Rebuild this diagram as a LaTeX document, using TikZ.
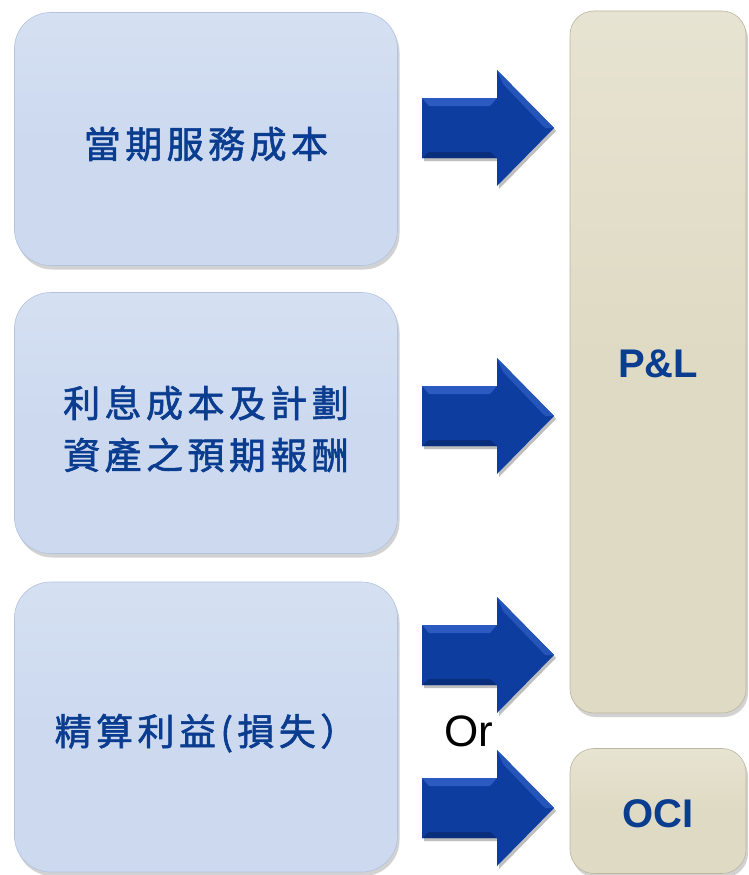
\documentclass[tikz,border=0pt]{standalone}
\usepackage{fontspec}
\setmainfont{Liberation Sans}
\newfontfamily\cjk[LetterSpace=12,FakeBold=1.6]{Noto Sans CJK TC}
\usetikzlibrary{shadows}
\definecolor{boxblue}{HTML}{CCD9EF}
\definecolor{boxblueedge}{HTML}{B3C3DF}
\definecolor{boxbeige}{HTML}{DFDAC3}
\definecolor{boxbeigeedge}{HTML}{BDB69E}
\definecolor{txtblue}{HTML}{0A3C90}
\definecolor{arrblue}{HTML}{0C3D9F}
\definecolor{arrlight}{HTML}{2B5BC0}
\definecolor{arrdark}{HTML}{082E7C}
\tikzset{
  srcbox/.style={draw=boxblueedge, line width=0.6pt, rounded corners=36pt,
    top color=boxblue!82!white, bottom color=boxblue, middle color=boxblue,
    drop shadow={opacity=0.35, shadow xshift=2pt, shadow yshift=-4pt},
    minimum width=383pt, inner sep=0pt, text=txtblue,
    font=\cjk\fontsize{37}{52}\selectfont, align=center},
  dstbox/.style={draw=boxbeigeedge, line width=0.6pt, rounded corners=24pt,
    top color=boxbeige!75!white, bottom color=boxbeige, middle color=boxbeige,
    drop shadow={opacity=0.35, shadow xshift=2pt, shadow yshift=-4pt},
    minimum width=176pt, inner sep=0pt, text=txtblue,
    font=\bfseries\fontsize{40}{44}\selectfont},
  ortext/.style={font=\fontsize{44}{48}\selectfont, text=black, inner sep=0pt}
}
\newcommand{\lowered}[2]{\raisebox{-#1}[\height][\depth]{#2}}
\newcommand{\blockarrow}[1]{%
  \fill[black, opacity=0.25] (424,#1-27) -- (499,#1-27) -- (499,#1-55) -- (556,#1+3) -- (499,#1+61) -- (499,#1+33) -- (424,#1+33) -- cycle;
  \fill[arrblue] (422,#1-30) -- (497,#1-30) -- (497,#1-58) -- (554,#1) -- (497,#1+58) -- (497,#1+30) -- (422,#1+30) -- cycle;
  \fill[arrlight] (422,#1-30) -- (497,#1-30) -- (490,#1-22) -- (429,#1-22) -- cycle;
  \fill[arrdark] (422,#1+30) -- (497,#1+30) -- (490,#1+24) -- (429,#1+24) -- cycle;
  \fill[arrlight!80!arrblue] (497,#1-58) -- (554,#1) -- (545,#1) -- (503,#1-44) -- cycle;
}
\begin{document}
\begin{tikzpicture}[x=1pt,y=-1pt]
\useasboundingbox[fill=white] (0,0) rectangle (749,875);
% source boxes
\node[srcbox, minimum height=253pt] (b1) at (206,139) {\lowered{5pt}{當期服務成本}};
\node[srcbox, minimum height=261pt] (b2) at (206,423) {\lowered{6pt}{利息成本及計劃}\\\lowered{6pt}{資產之預期報酬}};
\node[srcbox, minimum height=290pt] (b3) at (206,727) {\lowered{6pt}{精算利益(損失）}};
% destination boxes
\node[dstbox, minimum height=702pt] (pl) at (658,362) {\lowered{2pt}{P\&L}};
\node[dstbox, minimum height=125pt] (oci) at (658,811) {\lowered{3pt}{OCI}};
% arrows
\blockarrow{128}
\blockarrow{416}
\blockarrow{655}
\blockarrow{808}
\node[ortext] (or) at (469,731) {Or};
\end{tikzpicture}
\end{document}
